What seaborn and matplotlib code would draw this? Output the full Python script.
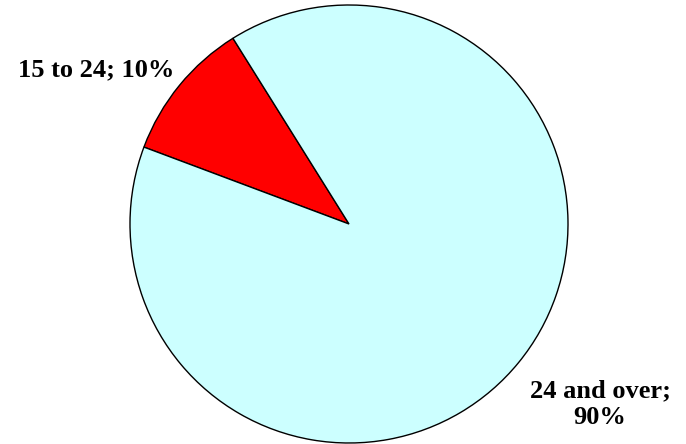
import matplotlib
matplotlib.use('Agg')
import matplotlib.pyplot as plt
import seaborn as sns

# Age groups and their shares
groups = ['15 to 24', '24 and over']
shares = [10.4, 89.6]
shown_pct = [10, 90]
colors = ['#FF0000', '#CCFFFF']

sns.set_theme(style='white')
plt.rcParams['font.family'] = ['Liberation Serif', 'DejaVu Serif']

fig = plt.figure(figsize=(6.86, 4.44), dpi=100)
# place the pie so its centre and radius match the reference
ax = fig.add_axes([(349 - 219) / 686, (444 - 224 - 219) / 444, 438 / 686, 438 / 444])

ax.pie(shares, colors=colors, startangle=122, radius=1,
       wedgeprops={'edgecolor': 'black', 'linewidth': 1.0})
ax.set_xlim(-1, 1)
ax.set_ylim(-1, 1)
ax.set_aspect('equal')

ax.text(-1.155, 0.703, f'{groups[0]}; {shown_pct[0]}%', ha='center', va='center',
        fontsize=19, fontweight='bold', color='black', clip_on=False)
ax.text(1.146, -0.822, f'{groups[1]};\n{shown_pct[1]}%', ha='center', va='center',
        fontsize=19, fontweight='bold', color='black', clip_on=False,
        linespacing=1.2)

fig.savefig('out.png', dpi=100, facecolor='white')
